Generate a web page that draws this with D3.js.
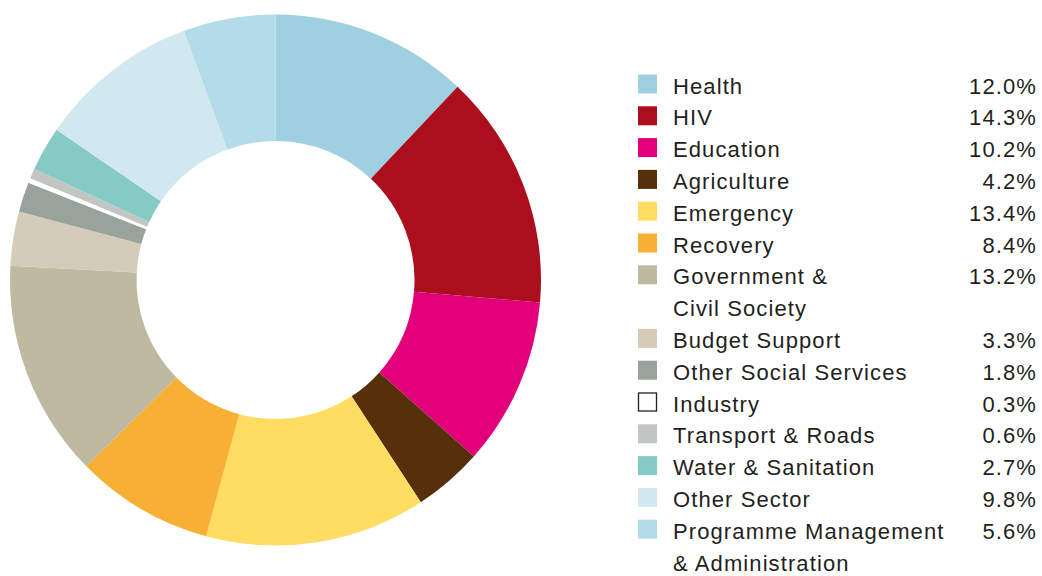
<!DOCTYPE html>
<html><head><meta charset="utf-8">
<script src="https://cdn.jsdelivr.net/npm/d3@7"></script>
<style>body{margin:0;background:#fff}svg{display:block}</style>
</head><body><svg id="c" width="1042" height="576"></svg>
<script>
const categories = ["Health","HIV","Education","Agriculture","Emergency","Recovery","Government & Civil Society","Budget Support","Other Social Services","Industry","Transport & Roads","Water & Sanitation","Other Sector","Programme Management & Administration"];
const labelLines = [["Health"],["HIV"],["Education"],["Agriculture"],["Emergency"],["Recovery"],["Government &","Civil Society"],["Budget Support"],["Other Social Services"],["Industry"],["Transport & Roads"],["Water & Sanitation"],["Other Sector"],["Programme Management","& Administration"]];
const values = [12.0,14.3,10.2,4.2,13.4,8.4,13.2,3.3,1.8,0.3,0.6,2.7,9.8,5.6];
const colors = ["#9ed0e2","#ab0f1e","#e2007a","#57300b","#ffdc62","#f7b035","#c0b9a1","#d4cbb8","#97a39b","#ffffff","#c2c6c3","#86cac6","#d1e8ef","#b4dbe8"];

const svg = d3.select("#c");
const cx = 275.5, cy = 280, R = 265.5, r = 139;
const data = categories.map((c,i)=>({c, v: values[i], col: colors[i], lines: labelLines[i]}));
const pie = d3.pie().sort(null).value(d=>d.v);
const arc = d3.arc().innerRadius(r).outerRadius(R);
svg.append("g").attr("transform",`translate(${cx},${cy})`)
  .selectAll("path").data(pie(data)).join("path")
  .attr("d",arc).attr("fill",d=>d.data.col);

// legend
const rowH = 31.8;
const font = "Liberation Sans, Arial, sans-serif";
let row = 0;
const lg = svg.append("g");
data.forEach(d=>{
  const y = 93.5 + row*rowH;
  const isWhite = d.col === "#ffffff";
  lg.append("rect").attr("x", isWhite?638.5:638).attr("y", isWhite?y-18.5:y-19)
    .attr("width", isWhite?18:19).attr("height", isWhite?18:19)
    .attr("fill", d.col).attr("stroke", isWhite?"#231f20":"none").attr("stroke-width",1.3);
  d.lines.forEach((t,k)=>{
    lg.append("text").attr("x",673).attr("y",y+k*rowH).text(t)
      .attr("font-family",font).attr("font-size",22).attr("letter-spacing",1.1).attr("fill","#231f20");
  });
  lg.append("text").attr("x",1037).attr("y",y).attr("text-anchor","end").text(d3.format(".1f")(d.v)+"%")
    .attr("font-family",font).attr("font-size",22).attr("letter-spacing",1.1).attr("fill","#231f20");
  row += d.lines.length;
});
</script></body></html>
